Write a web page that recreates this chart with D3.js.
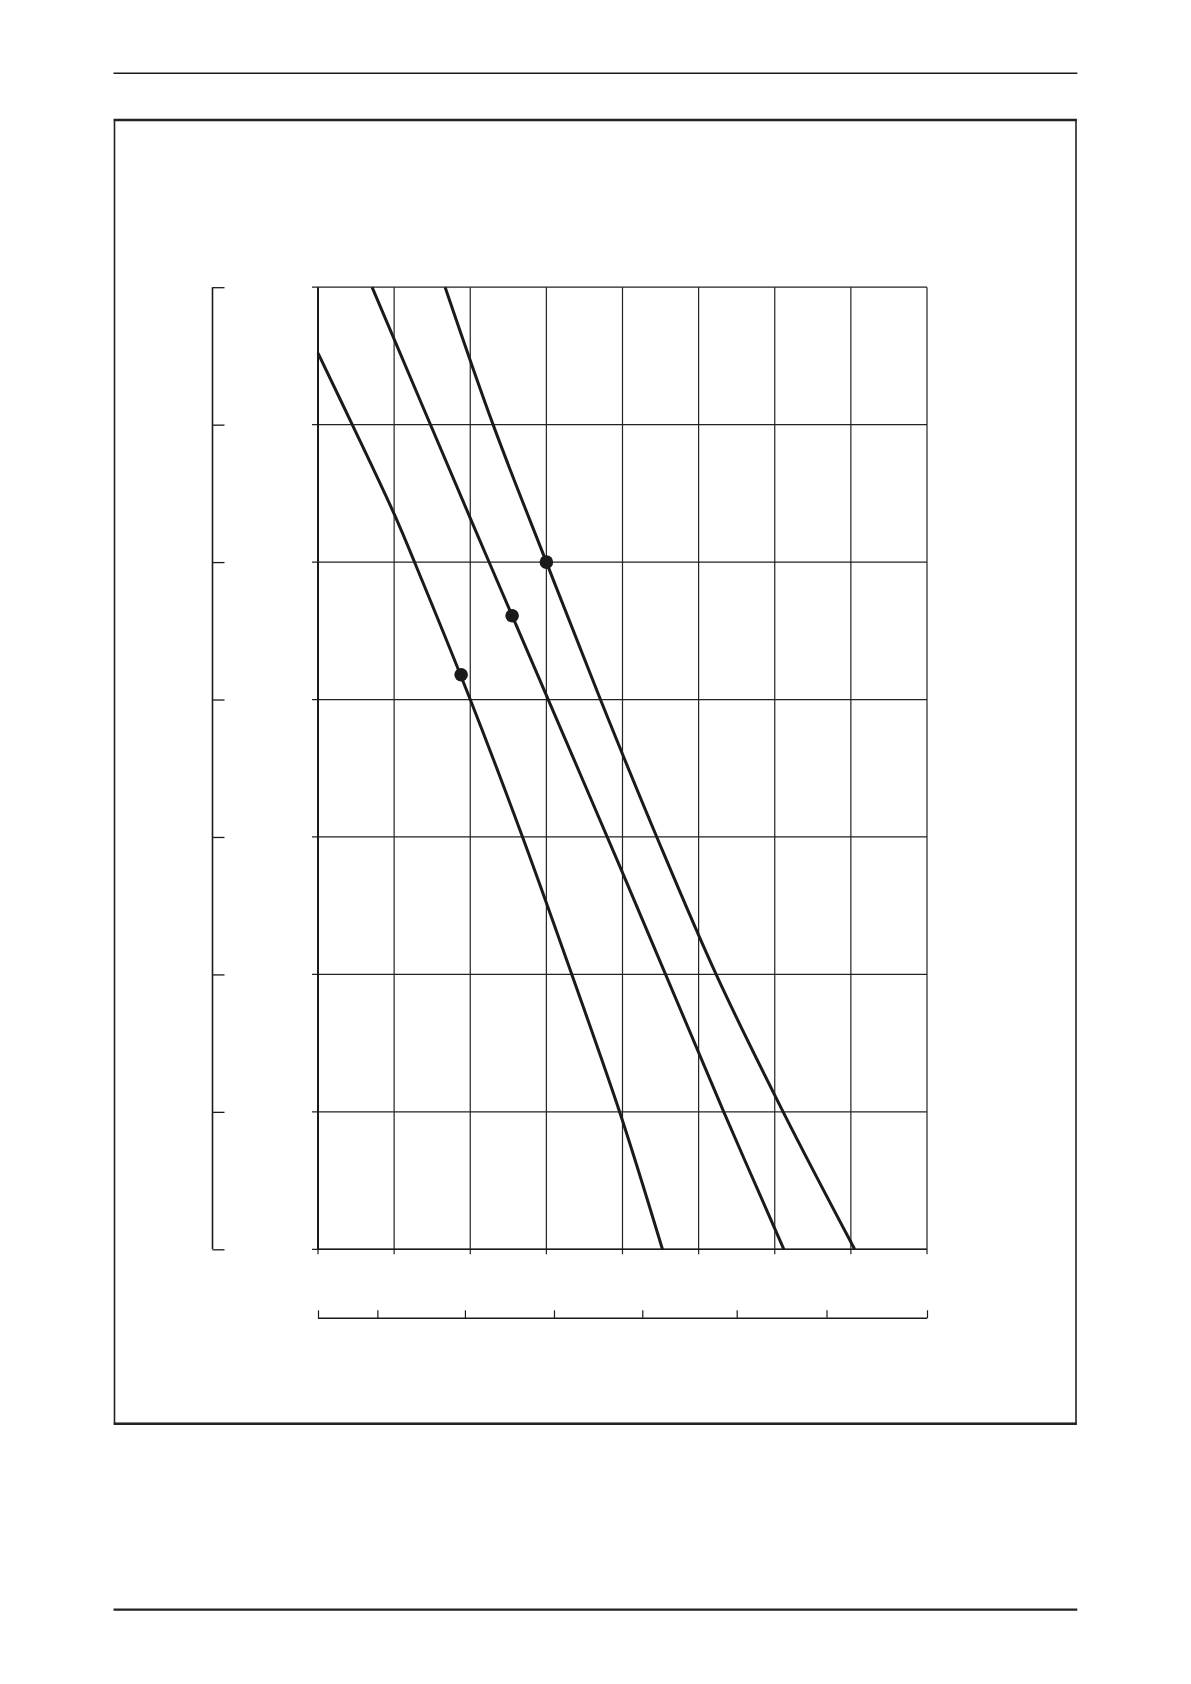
<!DOCTYPE html>
<meta charset="utf-8">
<style>
    body { margin: 0; background: #fff; }
    svg { display: block; }
    .grid line { stroke: #222; stroke-width: 1.2; }
    .curve { fill: none; stroke: #1a1a1a; stroke-width: 3; }
</style>
<body>
<script src="https://cdn.jsdelivr.net/npm/d3@7"></script>
<script>

    var width = 1191;
    var height = 1684;

    // grid: 8 columns, 7 rows, no labels in the original
    var xCols = [0, 1, 2, 3, 4, 5, 6, 7, 8];
    var yRows = [0, 1, 2, 3, 4, 5, 6, 7];

    // ticks of the lower secondary scale, read in main column units
    var secondaryTicks = [0, 0.78, 1.93, 3.10, 4.26, 5.50, 6.68, 8];

    // curves, [x, y] in grid units
    var curveA = [[0, 6.52], [0.45, 6.0], [1, 5.35], [1.29, 4.97], [2, 4.0], [2.70, 2.98], [3.34, 1.99], [3.98, 0.97], [4.525, 0]];
    var curveB = [[0.71, 7], [2, 5.32], [2.55, 4.61], [4, 2.74], [5.33, 1], [6.12, 0]];
    var curveC = [[1.67, 7], [2.3, 6], [3, 5], [3.71, 4], [4.45, 3], [5.23, 2], [6.11, 1], [7.05, 0]];

    // marked points on each curve
    var markers = [[1.88, 4.18], [2.55, 4.61], [3, 5]];

    var svg = d3.select("body").append("svg")
        .attr("width", width)
        .attr("height", height);

    var x = d3.scaleLinear().domain([0, 8]).range([318, 927]);
    var y = d3.scaleLinear().domain([0, 7]).range([1249.3, 287.2]);

    /////////////////////////////////
    // PAGE FRAME
    /////////////////////////////////

    svg.append("line")
        .attr("x1", 113.5).attr("x2", 1077.3)
        .attr("y1", 73.3).attr("y2", 73.3)
        .attr("stroke", "#1a1a1a").attr("stroke-width", 1.4);

    svg.append("line")
        .attr("x1", 113.5).attr("x2", 1077.3)
        .attr("y1", 1609.7).attr("y2", 1609.7)
        .attr("stroke", "#222").attr("stroke-width", 2.2);

    svg.append("rect")
        .attr("x", 114.5).attr("y", 120)
        .attr("width", 961.5).attr("height", 1303.7)
        .attr("fill", "none").attr("stroke", "#222").attr("stroke-width", 1.6);

    [120, 1423.7].forEach(function (yy) {
        svg.append("line")
            .attr("x1", 113.7).attr("x2", 1076.8)
            .attr("y1", yy).attr("y2", yy)
            .attr("stroke", "#222").attr("stroke-width", 2.4);
    });

    /////////////////////////////////
    // GRID
    /////////////////////////////////

    var grid = svg.append("g").attr("class", "grid");

    grid.selectAll("line.h")
        .data(yRows)
        .enter()
        .append("line")
        .attr("class", "h")
        .attr("x1", x(0) - 6)
        .attr("x2", x(8))
        .attr("y1", function (d) { return y(d); })
        .attr("y2", function (d) { return y(d); });

    grid.selectAll("line.v")
        .data(xCols)
        .enter()
        .append("line")
        .attr("class", "v")
        .attr("x1", function (d) { return x(d); })
        .attr("x2", function (d) { return x(d); })
        .attr("y1", y(7))
        .attr("y2", y(0) + 5);

    // heavier left edge and base line
    svg.append("line")
        .attr("x1", x(0)).attr("x2", x(0))
        .attr("y1", y(7)).attr("y2", y(0))
        .attr("stroke", "#1a1a1a").attr("stroke-width", 2);
    svg.append("line")
        .attr("x1", x(0)).attr("x2", x(8))
        .attr("y1", y(0)).attr("y2", y(0))
        .attr("stroke", "#1a1a1a").attr("stroke-width", 1.6);

    /////////////////////////////////
    // SEPARATE LEFT AXIS
    /////////////////////////////////

    var leftAxis = d3.axisRight(y)
        .tickValues(yRows)
        .tickSize(12)
        .tickFormat("");

    svg.append("g")
        .attr("transform", "translate(212.5,0)")
        .call(leftAxis)
        .call(function (g) {
            g.select(".domain").attr("d", "M0," + y(7) + "V" + y(0)).attr("stroke", "#1a1a1a").attr("stroke-width", 1.6);
            g.selectAll(".tick line").attr("stroke", "#1a1a1a").attr("stroke-width", 1.3);
        });

    /////////////////////////////////
    // SECONDARY BOTTOM AXIS
    /////////////////////////////////

    var bottomAxis = d3.axisTop(x)
        .tickValues(secondaryTicks)
        .tickSize(8)
        .tickFormat("");

    svg.append("g")
        .attr("transform", "translate(0,1318.3)")
        .call(bottomAxis)
        .call(function (g) {
            g.select(".domain").attr("d", "M" + x(0) + ",0H" + x(8)).attr("stroke", "#1a1a1a").attr("stroke-width", 1.5);
            g.selectAll(".tick line").attr("stroke", "#1a1a1a").attr("stroke-width", 1.2);
        });

    /////////////////////////////////
    // CURVES
    /////////////////////////////////

    var line = d3.line()
        .x(function (d) { return x(d[0]); })
        .y(function (d) { return y(d[1]); })
        .curve(d3.curveCatmullRom.alpha(0.5));

    svg.selectAll("path.curve")
        .data([curveA, curveB, curveC])
        .enter()
        .append("path")
        .attr("class", "curve")
        .attr("d", line);

    svg.selectAll("circle.marker")
        .data(markers)
        .enter()
        .append("circle")
        .attr("class", "marker")
        .attr("cx", function (d) { return x(d[0]); })
        .attr("cy", function (d) { return y(d[1]); })
        .attr("r", 6.8)
        .attr("fill", "#1a1a1a");

</script>
</body>
</html>
